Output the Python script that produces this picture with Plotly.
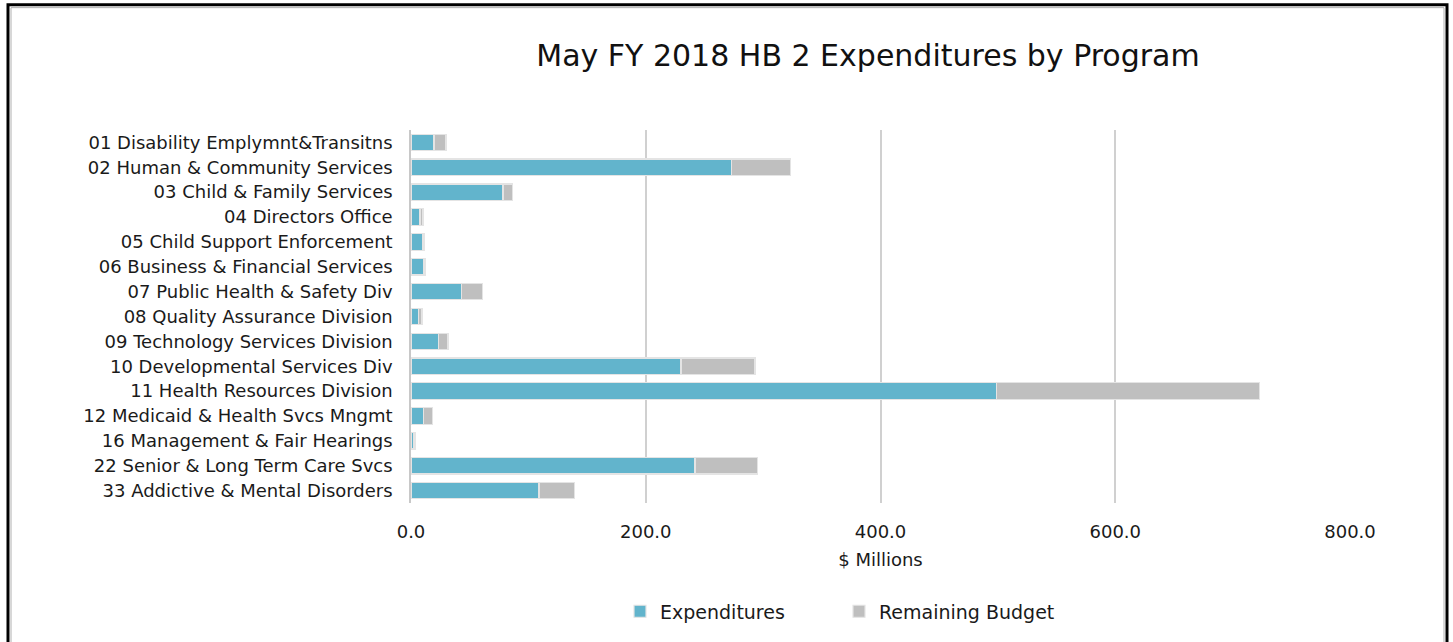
import plotly.graph_objects as go

programs = [
    "01 Disability Emplymnt&Transitns",
    "02 Human & Community Services",
    "03 Child & Family Services",
    "04 Directors Office",
    "05 Child Support Enforcement",
    "06 Business & Financial Services",
    "07 Public Health & Safety Div",
    "08 Quality Assurance Division",
    "09 Technology Services Division",
    "10 Developmental Services Div",
    "11 Health Resources Division",
    "12 Medicaid & Health Svcs Mngmt",
    "16 Management & Fair Hearings",
    "22 Senior & Long Term Care Svcs",
    "33 Addictive & Mental Disorders",
]
expenditures = [19.6, 273.0, 78.3, 7.7, 9.6, 10.8, 42.8, 6.5, 23.5, 230.0, 499.0, 10.5, 2.0, 242.0, 109.0]
remaining = [10.2, 50.0, 8.5, 2.5, 1.4, 1.2, 17.9, 2.9, 8.0, 63.0, 223.6, 8.0, 1.4, 53.0, 30.6]
x_ticks = [0, 200, 400, 600, 800]

FONT = "DejaVu Sans, Arial, sans-serif"
W, H = 1453, 642
L, R, T, B = 411, 103, 130, 137
pw, ph = W - L - R, H - T - B

def px(x):
    return (x - L) / pw

def py(y):
    return (H - B - y) / ph

fig = go.Figure()
fig.add_trace(go.Bar(
    y=programs, x=expenditures, orientation="h", name="Expenditures",
    marker=dict(color="#62b4cc", line=dict(color="#e4e4e4", width=1.2)),
))
fig.add_trace(go.Bar(
    y=programs, x=remaining, orientation="h", name="Remaining Budget",
    marker=dict(color="#bfbfbf", line=dict(color="#e4e4e4", width=1.2)),
))

fig.update_layout(
    width=W, height=H, barmode="stack", bargap=0.34,
    margin=dict(l=L, r=R, t=T, b=B),
    paper_bgcolor="white", plot_bgcolor="white",
    font=dict(family=FONT, size=18, color="#1a1a1a"),
    title=dict(text="May FY 2018 HB 2 Expenditures by Program",
               xref="container", x=868 / W, xanchor="center",
               yref="container", y=1 - 55 / H, yanchor="middle",
               font=dict(size=30, color="#111111")),
    xaxis=dict(range=[0, 800], tickvals=x_ticks, tickformat=".1f",
               showgrid=True, gridcolor="#d0d0d0", gridwidth=1.5,
               zeroline=False, showline=False, ticks="", ticklen=0,
               ticklabelstandoff=16, tickfont=dict(size=18),
               title=dict(text="$ Millions", font=dict(size=18), standoff=12)),
    yaxis=dict(categoryorder="array", categoryarray=programs[::-1],
               autorange=True, showline=True, linecolor="#c8c8c8", linewidth=1.5,
               ticks="", showgrid=False, tickfont=dict(size=18), ticklabelstandoff=13),
    legend=dict(orientation="h", x=px(620), xanchor="left", y=py(614), yanchor="middle",
                traceorder="normal", font=dict(size=19), itemwidth=30,
                entrywidth=174, entrywidthmode="pixels"),
    showlegend=True,
)

# outer frame
fig.add_shape(type="rect", xref="paper", yref="paper",
              x0=px(8), x1=px(1447), y0=py(660), y1=py(4),
              line=dict(color="black", width=3), fillcolor="rgba(0,0,0,0)", layer="below")
fig.add_shape(type="rect", xref="paper", yref="paper",
              x0=px(11), x1=px(1444), y0=py(660), y1=py(7),
              line=dict(color="#b0b0b0", width=1), fillcolor="rgba(0,0,0,0)", layer="below")

fig.write_html("out.html")
